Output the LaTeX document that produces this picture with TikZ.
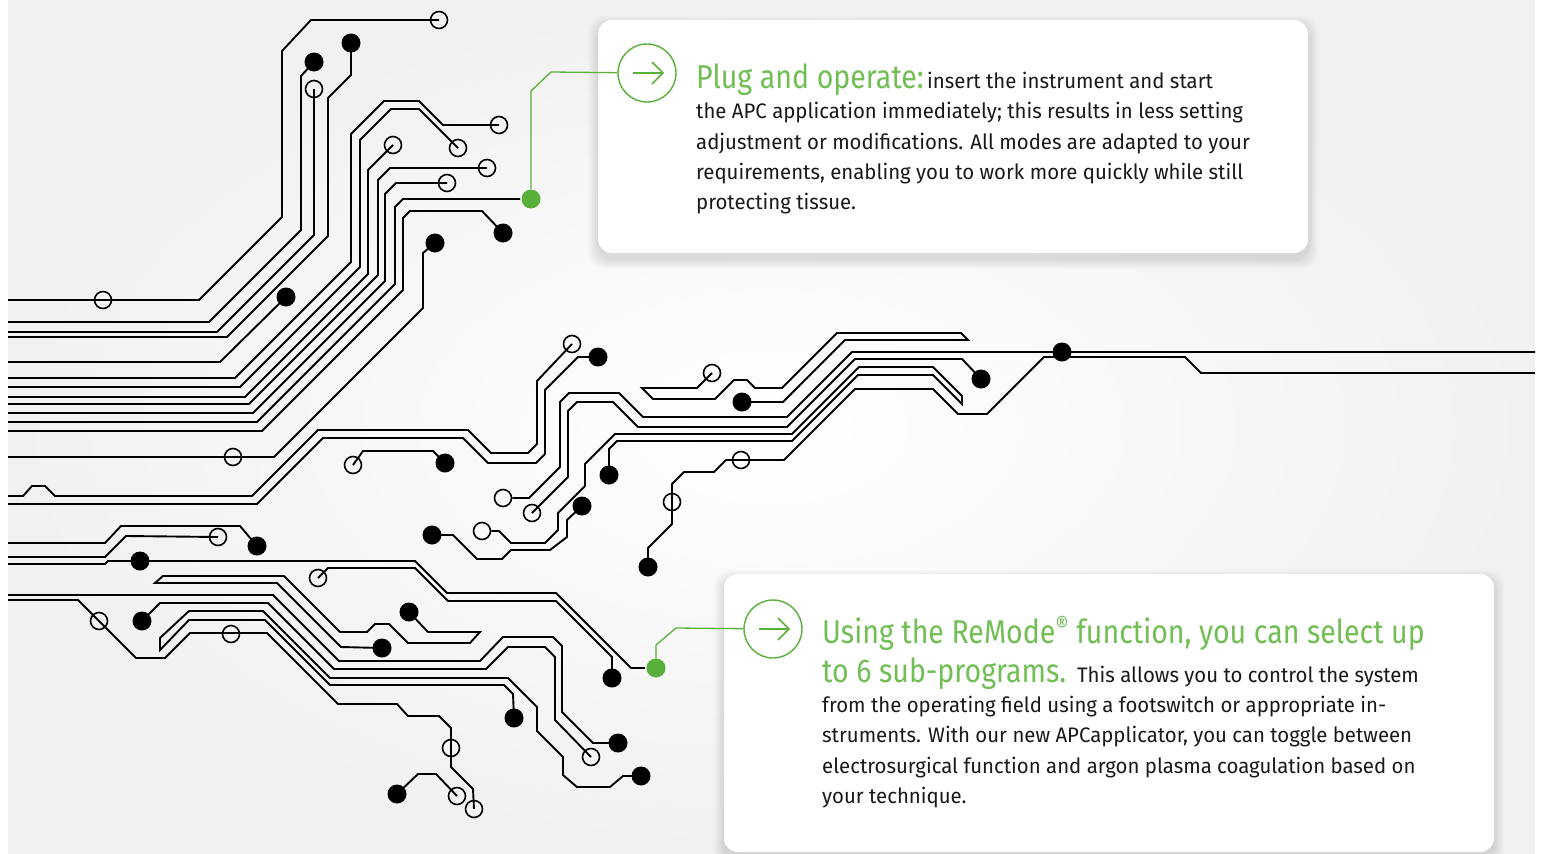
\documentclass[tikz,border=0pt]{standalone}
\usepackage{fontspec}
\setmainfont{Fira Sans}
\newfontfamily\bodyf[FakeStretch=0.97]{Fira Sans}
\newfontfamily\headf[FakeStretch=0.865]{Fira Sans}
\definecolor{cgreen}{RGB}{88,176,58}
\definecolor{hgreen}{RGB}{112,190,84}
\definecolor{bggray}{RGB}{241,241,241}
\definecolor{txt}{RGB}{25,25,25}
\tikzset{
  trace/.style={line width=1.9pt, black},
  opad/.style={circle, draw=black, line width=1.6pt, minimum size=17pt, inner sep=0pt},
  dpad/.style={circle, fill=black, minimum size=19pt, inner sep=0pt},
  gpad/.style={circle, fill=cgreen, minimum size=19pt, inner sep=0pt},
  gline/.style={line width=1.3pt, cgreen},
  arrowring/.style={circle, draw=cgreen, line width=1.4pt, minimum size=58pt, inner sep=0pt},
  card/.style={fill=white, rounded corners=14pt},
  body/.style={anchor=base west, inner sep=0pt, text=txt, font=\bodyf\fontsize{21}{22}\selectfont},
  head/.style={anchor=base west, inner sep=0pt, text=hgreen, font=\headf\fontsize{33}{33}\selectfont}
}
\begin{document}
\begin{tikzpicture}[x=1pt,y=-1pt]
\useasboundingbox (0,0) rectangle (1543,854);
\fill[white] (0,0) rectangle (1543,854);
\shade[inner color=white, outer color=bggray] (8,0) rectangle (1535,854);

% card shadows
\foreach \i in {1,...,10} {
  \fill[black, opacity=0.013, rounded corners=16pt] ({598-\i},{26-\i}) rectangle ({1308+\i},{259+\i});
  \fill[black, opacity=0.013, rounded corners=16pt] ({724-\i},{580-\i}) rectangle ({1494+\i},{858+\i});
}
\fill[card] (598,20) rectangle (1308,253);
\fill[card] (724,574) rectangle (1494,852);

% open pads
\node[opad] (o1) at (439,20) {};
\node[opad] (o2) at (103,300) {};
\node[opad] (o3) at (314,89) {};
\node[opad] (o4) at (499,125) {};
\node[opad] (o5) at (458,148) {};
\node[opad] (o6) at (393,145) {};
\node[opad] (o7) at (487,168) {};
\node[opad] (o8) at (447,183) {};
\node[opad] (o9) at (233,457) {};
\node[opad] (o10) at (572,344) {};
\node[opad] (o11) at (353,465) {};
\node[opad] (o12) at (503,498) {};
\node[opad] (o13) at (532,513) {};
\node[opad] (o14) at (482,531) {};
\node[opad] (o15) at (712,373) {};
\node[opad] (o16) at (741,460) {};
\node[opad] (o17) at (672,502) {};
\node[opad] (o18) at (218,537) {};
\node[opad] (o19) at (318,578) {};
\node[opad] (o20) at (99,621) {};
\node[opad] (o21) at (231,634) {};
\node[opad] (o22) at (451,748) {};
\node[opad] (o23) at (474,809) {};
\node[opad] (o24) at (591,757) {};
\node[opad] (o25) at (457,796) {};

% traces
\draw[trace] (o1.center) -- (311,20) -- (282,51) -- (282,217) -- (199,300) -- (8,300);
\draw[trace] (314,62) -- (301,76) -- (301,230) -- (209,322) -- (8,322);
\draw[trace] (o3.center) -- (314,235) -- (217,332) -- (8,332);
\draw[trace] (351,43) -- (351,75) -- (328,98) -- (328,236) -- (227,337) -- (8,337);
\draw[trace] (286,297) -- (220,362) -- (8,362);
\draw[trace] (o4.center) -- (443,125) -- (419,101) -- (384,101) -- (351,134) -- (351,262) -- (235,378) -- (8,378);
\draw[trace] (o5.center) -- (419,109) -- (391,109) -- (360,140) -- (360,267) -- (240,387) -- (8,387);
\draw[trace] (o6.center) -- (368,170) -- (368,274) -- (245,397) -- (8,397);
\draw[trace] (o7.center) -- (390,168) -- (378,180) -- (378,275) -- (249,404) -- (8,404);
\draw[trace] (o8.center) -- (396,183) -- (385,194) -- (385,281) -- (253,413) -- (8,413);
\draw[trace] (520,199) -- (403,199) -- (395,207) -- (395,284) -- (257,422) -- (8,422);
\draw[trace] (503,233) -- (482,211) -- (410,211) -- (403,218) -- (403,290) -- (262,431) -- (8,431);
\draw[trace] (435,243) -- (423,253) -- (423,308) -- (274,457) -- (8,457);
\draw[trace] (8,496) -- (23,496) -- (32,486) -- (45,486) -- (55,496) -- (252,496) -- (318,430) -- (468,430) -- (491,453) -- (528,453) -- (537,444) -- (537,381) -- (o10.center);
\draw[trace] (8,504) -- (257,504) -- (323,438) -- (463,438) -- (488,463) -- (536,463) -- (545,454) -- (545,390) -- (578,357) -- (598,357);
\draw[trace] (o11.center) -- (363,451) -- (433,451) -- (445,463);
\draw[trace] (o12) -- (529,498) -- (560,467) -- (560,402) -- (569,393) -- (619,393) -- (643,417) -- (787,417) -- (852,352) -- (1535,352);
\draw[trace] (o13.center) -- (568,477) -- (568,411) -- (577,402) -- (613,402) -- (638,427) -- (787,427) -- (855,359) -- (962,359) -- (981,379);
\draw[trace] (o14) -- (499,531) -- (511,543) -- (545,543) -- (558,530) -- (558,513) -- (585,486) -- (585,464) -- (615,434) -- (792,434) -- (859,367) -- (933,367) -- (962,396) -- (962,404) -- (933,375) -- (858,375) -- (792,441) -- (617,441) -- (609,449) -- (609,475);
\draw[trace] (432,535) -- (453,535) -- (477,559) -- (502,559) -- (511,550) -- (550,550) -- (567,537) -- (567,520) -- (582,506);
\draw[trace] (o15.center) -- (697,388) -- (642,388) -- (653,399) -- (715,399) -- (734,380) -- (747,380) -- (755,388) -- (782,388) -- (837,333) -- (961,333) -- (968,340) -- (845,340) -- (783,402) -- (742,402);
\draw[trace] (1535,373) -- (1201,373) -- (1185,357) -- (1044,357) -- (987,414) -- (958,414) -- (933,389) -- (855,389) -- (784,460) -- (726,460) -- (714,472) -- (684,472) -- (672,484) -- (672,524) -- (648,548) -- (648,567);
\draw[trace] (8,543) -- (105,543) -- (121,526) -- (240,526) -- (257,546);
\draw[trace] (8,557) -- (105,557) -- (126,536) -- (o18.center);
\draw[trace] (8,564) -- (105,564) -- (108,561) -- (415,561) -- (447,593) -- (556,593) -- (631,668) -- (645,668);
\draw[trace] (o19.center) -- (328,568) -- (415,568) -- (448,601) -- (556,601) -- (612,657) -- (612,678);
\draw[trace] (409,612) -- (428,632) -- (480,632) -- (470,643) -- (408,643) -- (389,624) -- (375,624) -- (367,632) -- (340,632) -- (284,576) -- (163,576) -- (155,583) -- (277,583) -- (341,647) -- (382,648);
\draw[trace] (8,595) -- (273,595) -- (339,661) -- (480,661) -- (503,637) -- (553,637) -- (562,646) -- (562,712) -- (593,743) -- (618,743);
\draw[trace] (8,600) -- (78,600) -- (136,658) -- (165,658) -- (190,633) -- (267,633) -- (338,704) -- (397,704) -- (408,716) -- (439,716) -- (451,728) -- (451,767) -- (473,789) -- (o23.center);
\draw[trace] (142,621) -- (160,603) -- (268,603) -- (334,669) -- (486,669) -- (508,647) -- (545,647) -- (555,657) -- (555,720) -- (o24.center);
\draw[trace] (641,776) -- (623,776) -- (610,787) -- (577,787) -- (563,775) -- (563,757) -- (537,731) -- (537,707) -- (508,678) -- (330,678) -- (263,611) -- (189,611) -- (160,638) -- (160,650) -- (189,620) -- (265,620) -- (330,685) -- (504,685) -- (513,694) -- (514,718);
\draw[trace] (397,794) -- (418,774) -- (436,774) -- (o25.center);

% filled pads
\foreach \n/\p in {d1/{(314,62)}, d2/{(351,43)}, d3/{(286,297)}, d4/{(435,243)}, d5/{(503,233)},
  d6/{(598,357)}, d7/{(445,463)}, d8/{(432,535)}, d9/{(582,506)}, d10/{(609,475)},
  d11/{(742,402)}, d12/{(981,379)}, d13/{(1062,352)}, d14/{(648,567)}, d15/{(257,546)},
  d16/{(140,561)}, d17/{(612,678)}, d18/{(409,612)}, d19/{(382,648)}, d20/{(142,621)},
  d21/{(618,743)}, d22/{(641,776)}, d23/{(514,718)}, d24/{(397,794)}}
  \node[dpad] (\n) at \p {};
\node[gpad] (g1) at (531,199) {};
\node[gpad] (g2) at (656,668) {};

% arrow rings and green connectors
\node[arrowring] (c1) at (647,73) {};
\node[arrowring] (c2) at (773,629) {};
\draw[gline] (g1) -- (531,91) -- (551,72) -- (c1);
\draw[gline] (g2) -- (656,645) -- (676,628) -- (c2);
\draw[gline, line width=1.6pt] (633,73) -- (662,73) (652,62) -- (663,73) -- (652,84);
\draw[gline, line width=1.6pt] (759,629) -- (788,629) (778,618) -- (789,629) -- (778,640);

% text card 1
\node[head] (h1) at (696,88) {Plug and operate:};
\node[body] (b11) at (927,88) {insert the instrument and start};
\node[body] (b12) at (696,118) {the APC application immediately; this results in less setting};
\node[body] (b13) at (696,149) {adjustment or modifications. All modes are adapted to your};
\node[body] (b14) at (696,179) {requirements, enabling you to work more quickly while still};
\node[body] (b15) at (696,209) {protecting tissue.};

% text card 2
\node[head] (h2) at (822,643) {Using the ReMode\textsuperscript{®} function, you can select up};
\node[head] (h3) at (822,682) {to 6 sub-programs.};
\node[body] (b21) at (1077,682) {This allows you to control the system};
\node[body] (b22) at (822,712) {from the operating field using a footswitch or appropriate in-};
\node[body] (b23) at (822,742) {struments. With our new APCapplicator, you can toggle between};
\node[body] (b24) at (822,773) {electrosurgical function and argon plasma coagulation based on};
\node[body] (b25) at (822,803) {your technique.};
\end{tikzpicture}
\end{document}
